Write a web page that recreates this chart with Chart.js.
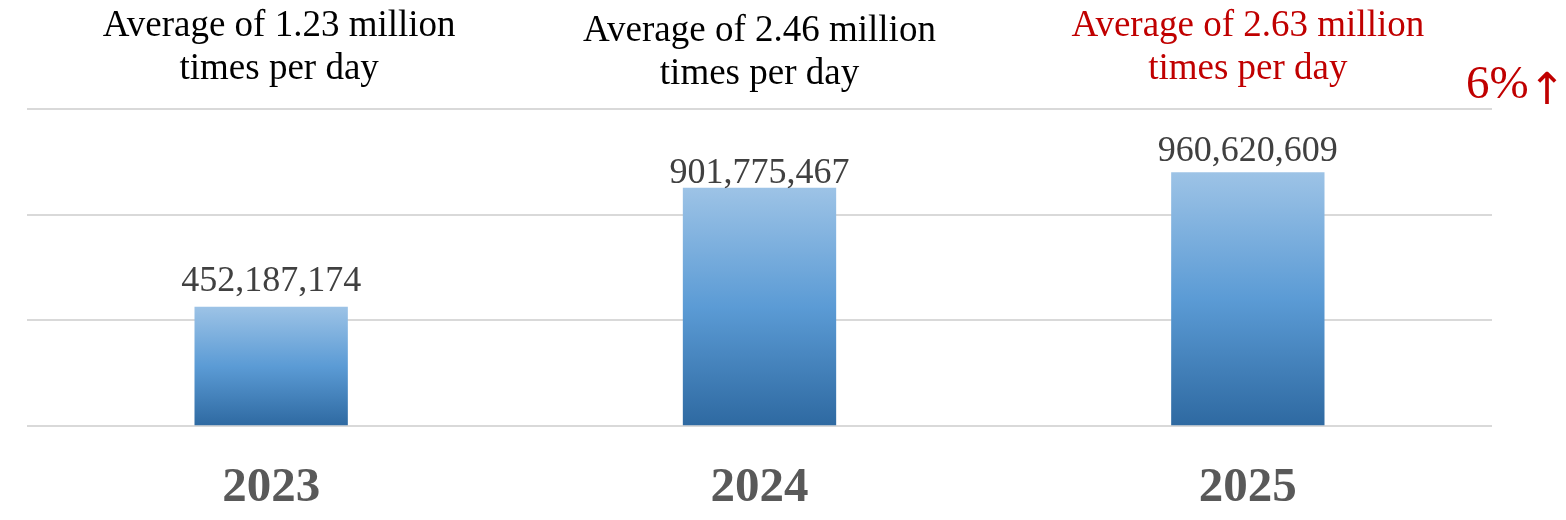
<!DOCTYPE html>
<html>
<head>
<meta charset="utf-8">
<script src="https://cdn.jsdelivr.net/npm/chart.js@4"></script>
<style>
  html, body { margin: 0; padding: 0; background: #fff; }
  #wrap { width: 1566px; height: 520px; position: relative; }
</style>
</head>
<body>
<div id="wrap"><canvas id="chart"></canvas></div>
<script>
(() => {
    const years = ['2023', '2024', '2025'];
    const totals = [452187174, 901775467, 960620609];
    const noteLines = [
        ['Average of 1.23 million', 'times per day'],
        ['Average of 2.46 million', 'times per day'],
        ['Average of 2.63 million', 'times per day']
    ];
    const growthText = '6%';

    // styling / placement tweaks (not data)
    const noteColors = ['#000000', '#000000', '#C00000'];
    const noteDx = [8, 0, 0];
    const noteDy = [0, 5, 0];
    const labelGap = [16, 5, 11];

    const serif = '"Liberation Serif", "Times New Roman", serif';

    // gradient spans each bar from its own top to the baseline
    const barGradient = (ctx) => {
        const chart = ctx.chart;
        const ys = chart.scales.y;
        if (!chart.chartArea || !ys || ctx.raw == null) return '#5B9BD5';
        const top = ys.getPixelForValue(ctx.raw);
        const bottom = ys.getPixelForValue(0);
        const g = chart.ctx.createLinearGradient(0, top, 0, bottom);
        g.addColorStop(0, '#9DC3E6');
        g.addColorStop(0.5, '#5B9BD5');
        g.addColorStop(1, '#2E69A1');
        return g;
    };

    const decorations = {
        id: 'decorations',
        afterDatasetsDraw(chart) {
            const { ctx } = chart;
            const xs = chart.scales.x;
            const meta = chart.getDatasetMeta(0);
            ctx.save();
            ctx.textAlign = 'center';
            // value labels
            ctx.font = '36px ' + serif;
            ctx.fillStyle = '#404040';
            ctx.textBaseline = 'alphabetic';
            meta.data.forEach((bar, i) => {
                ctx.fillText(totals[i].toLocaleString('en-US'), bar.x, bar.y - labelGap[i]);
            });
            // notes above
            ctx.font = '37px ' + serif;
            ctx.textBaseline = 'middle';
            years.forEach((y, i) => {
                const x = xs.getPixelForValue(i) + noteDx[i];
                ctx.fillStyle = noteColors[i];
                noteLines[i].forEach((line, j) => {
                    ctx.fillText(line, x, 26 + noteDy[i] + j * 43);
                });
            });
            // growth marker
            ctx.fillStyle = '#C00000';
            ctx.textAlign = 'left';
            ctx.textBaseline = 'alphabetic';
            ctx.font = '47px ' + serif;
            ctx.fillText(growthText, 1466, 98);
            const w = ctx.measureText(growthText).width;
            ctx.font = '44px "DejaVu Sans"';
            ctx.fillText('\u2191', w + 1466, 104);
            ctx.restore();
        }
    };

    new Chart(document.getElementById('chart'), {
        type: 'bar',
        data: {
            labels: years,
            datasets: [{
                data: totals,
                backgroundColor: barGradient,
                borderWidth: 0,
                categoryPercentage: 1,
                barPercentage: 0.314
            }]
        },
        options: {
            responsive: true,
            maintainAspectRatio: false,
            animation: false,
            layout: { padding: { left: 27, right: 74, top: 109, bottom: -31 } },
            plugins: {
                legend: { display: false },
                tooltip: { enabled: false }
            },
            scales: {
                x: {
                    grid: { display: false, drawTicks: false },
                    border: { display: false },
                    ticks: {
                        padding: 33,
                        color: '#595959',
                        font: { family: serif, size: 49, weight: 'bold' }
                    }
                },
                y: {
                    min: 0,
                    max: 1200000000,
                    grid: { color: '#D9D9D9', lineWidth: 2, drawTicks: false },
                    border: { display: false },
                    ticks: { display: false, stepSize: 400000000 }
                }
            }
        },
        plugins: [decorations]
    });
})();
</script>
</body>
</html>
